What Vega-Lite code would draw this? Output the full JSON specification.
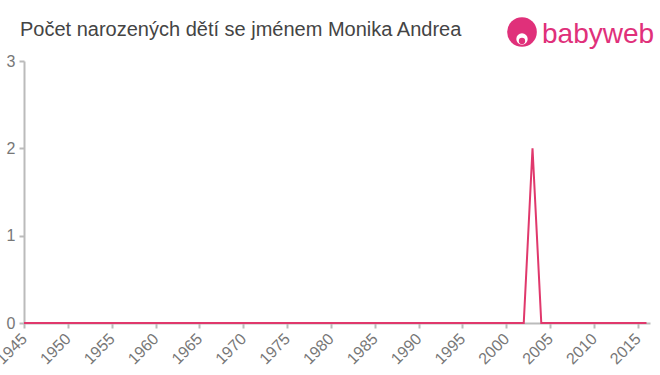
{
  "$schema": "https://vega.github.io/schema/vega-lite/v6.json",
  "width": 626,
  "height": 262,
  "autosize": {"type": "none"},
  "padding": {"left": 24, "top": 61, "right": 10, "bottom": 52},
  "background": "white",
  "config": {
    "view": {"stroke": null},
    "font": "Liberation Sans",
    "axis": {
      "title": null,
      "grid": false,
      "labelFontSize": 16,
      "labelColor": "#777777",
      "labelFont": "Liberation Sans",
      "domainColor": "#bbbbbb",
      "domainWidth": 2,
      "tickColor": "#bbbbbb",
      "tickWidth": 2,
      "tickSize": 5,
      "labelFlush": false,
      "labelOverlap": false
    },
    "axisX": {"labelAngle": -45, "labelPadding": 8, "labelFontSize": 16, "labelAlign": "right", "labelBaseline": "middle"},
    "axisY": {"labelPadding": 4}
  },
  "title": {
    "text": "Počet narozených dětí se jménem Monika Andrea",
    "anchor": "start",
    "frame": "group",
    "orient": "top",
    "dx": -4,
    "offset": 0,
    "dy": 23,
    "fontSize": 20,
    "fontWeight": "normal",
    "color": "#444444",
    "font": "Liberation Sans"
  },
  "datasets": {
    "births": [
      {"year": 1945, "count": 0}, {"year": 1946, "count": 0}, {"year": 1947, "count": 0}, {"year": 1948, "count": 0},
      {"year": 1949, "count": 0}, {"year": 1950, "count": 0}, {"year": 1951, "count": 0}, {"year": 1952, "count": 0},
      {"year": 1953, "count": 0}, {"year": 1954, "count": 0}, {"year": 1955, "count": 0}, {"year": 1956, "count": 0},
      {"year": 1957, "count": 0}, {"year": 1958, "count": 0}, {"year": 1959, "count": 0}, {"year": 1960, "count": 0},
      {"year": 1961, "count": 0}, {"year": 1962, "count": 0}, {"year": 1963, "count": 0}, {"year": 1964, "count": 0},
      {"year": 1965, "count": 0}, {"year": 1966, "count": 0}, {"year": 1967, "count": 0}, {"year": 1968, "count": 0},
      {"year": 1969, "count": 0}, {"year": 1970, "count": 0}, {"year": 1971, "count": 0}, {"year": 1972, "count": 0},
      {"year": 1973, "count": 0}, {"year": 1974, "count": 0}, {"year": 1975, "count": 0}, {"year": 1976, "count": 0},
      {"year": 1977, "count": 0}, {"year": 1978, "count": 0}, {"year": 1979, "count": 0}, {"year": 1980, "count": 0},
      {"year": 1981, "count": 0}, {"year": 1982, "count": 0}, {"year": 1983, "count": 0}, {"year": 1984, "count": 0},
      {"year": 1985, "count": 0}, {"year": 1986, "count": 0}, {"year": 1987, "count": 0}, {"year": 1988, "count": 0},
      {"year": 1989, "count": 0}, {"year": 1990, "count": 0}, {"year": 1991, "count": 0}, {"year": 1992, "count": 0},
      {"year": 1993, "count": 0}, {"year": 1994, "count": 0}, {"year": 1995, "count": 0}, {"year": 1996, "count": 0},
      {"year": 1997, "count": 0}, {"year": 1998, "count": 0}, {"year": 1999, "count": 0}, {"year": 2000, "count": 0},
      {"year": 2001, "count": 0}, {"year": 2002, "count": 0}, {"year": 2003, "count": 2}, {"year": 2004, "count": 0},
      {"year": 2005, "count": 0}, {"year": 2006, "count": 0}, {"year": 2007, "count": 0}, {"year": 2008, "count": 0},
      {"year": 2009, "count": 0}, {"year": 2010, "count": 0}, {"year": 2011, "count": 0}, {"year": 2012, "count": 0},
      {"year": 2013, "count": 0}, {"year": 2014, "count": 0}, {"year": 2015, "count": 0}, {"year": 2016, "count": 0}
    ],
    "logo": [
      {"year": 2001.8, "count": 3.332, "label": "babyweb"}
    ]
  },
  "layer": [
    {
      "data": {"name": "births"},
      "mark": {"type": "line", "color": "#e0386c", "strokeWidth": 2, "interpolate": "linear"},
      "encoding": {
        "x": {
          "field": "year",
          "type": "quantitative",
          "scale": {"domain": [1945, 2016.4], "nice": false, "zero": false},
          "axis": {
            "values": [1945, 1950, 1955, 1960, 1965, 1970, 1975, 1980, 1985, 1990, 1995, 2000, 2005, 2010, 2015],
            "format": "d"
          }
        },
        "y": {
          "field": "count",
          "type": "quantitative",
          "scale": {"domain": [0, 3], "nice": false},
          "axis": {"values": [0, 1, 2, 3], "format": "d"}
        }
      }
    },
    {
      "data": {"name": "logo"},
      "mark": {"type": "point", "filled": true, "shape": "circle", "size": 880, "color": "#e0307a", "opacity": 1, "clip": false},
      "encoding": {
        "x": {"field": "year", "type": "quantitative"},
        "y": {"field": "count", "type": "quantitative"}
      }
    },
    {
      "data": {"name": "logo"},
      "mark": {"type": "point", "filled": true, "shape": "circle", "size": 130, "color": "#ffffff", "opacity": 1, "clip": false, "yOffset": 7},
      "encoding": {
        "x": {"field": "year", "type": "quantitative"},
        "y": {"field": "count", "type": "quantitative"}
      }
    },
    {
      "data": {"name": "logo"},
      "mark": {"type": "point", "filled": true, "shape": "circle", "size": 40, "color": "#e0307a", "opacity": 1, "clip": false, "yOffset": 9},
      "encoding": {
        "x": {"field": "year", "type": "quantitative"},
        "y": {"field": "count", "type": "quantitative"}
      }
    },
    {
      "data": {"name": "logo"},
      "mark": {"type": "text", "align": "left", "baseline": "alphabetic", "dx": 20, "dy": 11, "fontSize": 28, "fontWeight": "normal", "color": "#e0307a", "font": "Liberation Sans", "clip": false},
      "encoding": {
        "x": {"field": "year", "type": "quantitative"},
        "y": {"field": "count", "type": "quantitative"},
        "text": {"field": "label"}
      }
    }
  ]
}
